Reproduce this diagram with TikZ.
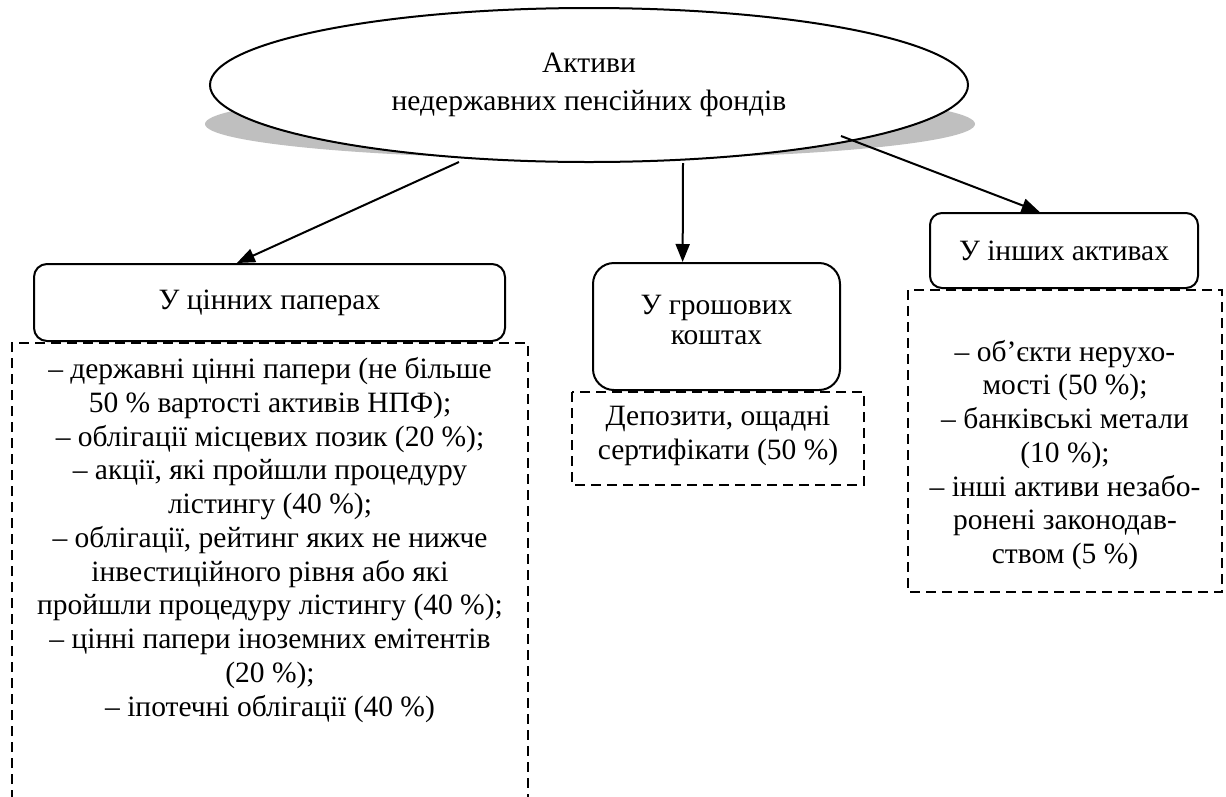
\documentclass[tikz,border=0pt]{standalone}
\usepackage{fontspec}
\setmainfont{Liberation Serif}
\usetikzlibrary{shapes.geometric,arrows.meta,calc}
\begin{document}
\begin{tikzpicture}[x=1pt,y=-1pt,line width=2pt,>={Triangle[length=18pt,width=14pt]},
  font=\fontsize{29.5}{33.75}\selectfont,
  solidbox/.style={draw,rectangle,inner sep=0pt,align=center},
  dashframe/.style={line width=1.8pt,dash pattern=on 10pt off 6pt},
  itemtext/.style={align=center,inner sep=0pt}]
  \useasboundingbox (0,0) rectangle (1226,796);
  % ellipse with its shadow
  \fill[black!25] (590,124) ellipse[x radius=385,y radius=35];
  \node[draw,fill=white,ellipse,minimum width=758pt,minimum height=154pt,
    inner sep=0pt,align=center] (assets) at (589,85)
    {Активи\\[4pt]недержавних пенсійних фондів};
  % the three kinds of assets
  \node[solidbox,rounded corners=13pt,minimum width=471pt,minimum height=77pt]
    (secur) at (269.5,302.5) {У цінних паперах};
  \node[solidbox,rounded corners=21pt,minimum width=247pt,minimum height=127pt]
    (cash) at (716.5,326.5) {У грошових\\[-4pt]коштах\\[-20pt]\mbox{}};
  \node[solidbox,rounded corners=12pt,minimum width=268pt,minimum height=75pt]
    (other) at (1064,250.5) {У інших активах};
  \draw[->] ($(assets.center)+(-130,77)$) -- ($(secur.north west)!.431!(secur.north east)$);
  \draw[->] ($(assets.center)+(94,78)$) -- ($(cash.north west)!.364!(cash.north east)$);
  \draw[->] ($(assets.center)+(252,51)$) -- ($(other.north west)!.41!(other.north east)$);
  % dashed lists
  \draw[dashframe] (12,800) -- (12,343) -- (528,343) -- (528,800);
  \node[itemtext] (securlist) at (270,540) {– державні цінні папери (не більше\\
    50~\% вартості активів НПФ);\\– облігації місцевих позик (20~\%);\\
    – акції, які пройшли процедуру\\лістингу (40~\%);\\
    – облігації, рейтинг яких не нижче\\інвестиційного рівня або які\\
    пройшли процедуру лістингу (40~\%);\\– цінні папери іноземних емітентів\\
    (20~\%);\\– іпотечні облігації (40~\%)};
  \draw[dashframe] (572,392) rectangle (864,485);
  \node[itemtext] (cashlist) at (718,436) {Депозити, ощадні\\сертифікати (50~\%)};
  \draw[dashframe] (908,290) rectangle (1222,592);
  \node[itemtext] (otherlist) at (1065,455) {– об’єкти нерухо-\\мості (50~\%);\\
    – банківські метали\\(10~\%);\\– інші активи незабо-\\ронені законодав-\\
    ством (5~\%)};
\end{tikzpicture}
\end{document}
